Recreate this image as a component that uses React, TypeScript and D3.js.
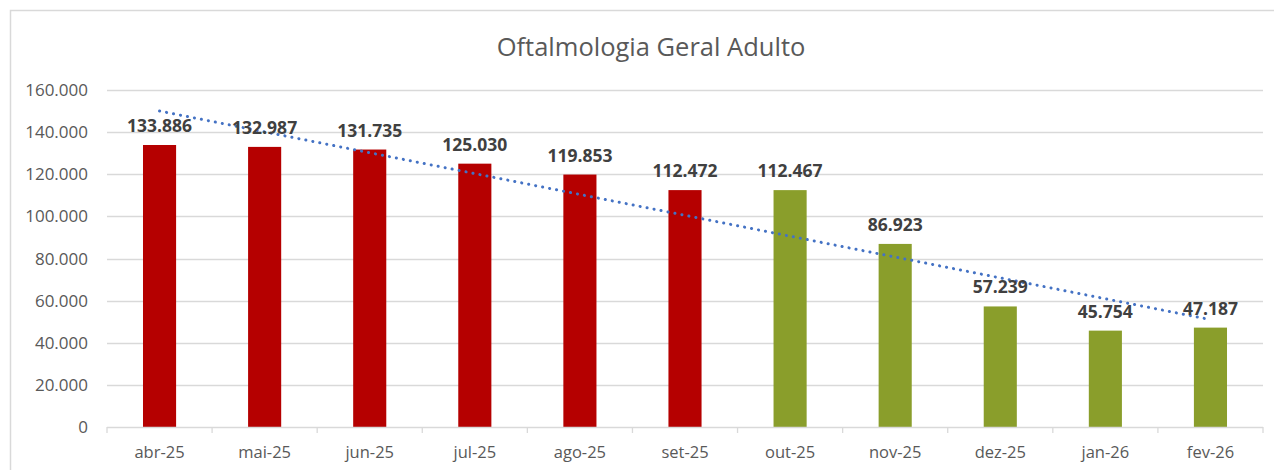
import React from "react";
import * as d3 from "d3";

const categories = ["abr-25", "mai-25", "jun-25", "jul-25", "ago-25", "set-25", "out-25", "nov-25", "dez-25", "jan-26", "fev-26"];
const values = [133886, 132987, 131735, 125030, 119853, 112472, 112467, 86923, 57239, 45754, 47187];
const groups = ["red", "red", "red", "red", "red", "red", "green", "green", "green", "green", "green"];
const yTicks = [0, 20000, 40000, 60000, 80000, 100000, 120000, 140000, 160000];
const title = "Oftalmologia Geral Adulto";

const W = 1274;
const H = 470;
const m = { left: 107, right: 11, top: 90, bottom: 43 };
const colors: Record<string, string> = { red: "#B50000", green: "#8A9E2B" };
const FONT = "'Open Sans', 'Liberation Sans', sans-serif";

const fmt = (v: number) => {
  if (v === 0) return "0";
  return d3.format(",")(v).replace(/,/g, ".");
};

export default function App() {
  const x = d3.scaleBand<string>().domain(categories).range([m.left, W - m.right]).paddingInner(0.685).paddingOuter(0.3425);
  const xb = d3.scaleBand<string>().domain(categories).range([m.left, W - m.right]);
  const y = d3.scaleLinear().domain([0, 160000]).range([H - m.bottom, m.top]);

  // linear trendline (least squares)
  const xs = values.map((_, i) => i + 1);
  const mx = d3.mean(xs) as number;
  const my = d3.mean(values) as number;
  const slope = d3.sum(xs.map((xi, i) => (xi - mx) * (values[i] - my))) / d3.sum(xs.map((xi) => (xi - mx) ** 2));
  const intercept = my - slope * mx;
  const trend = xs.map((xi, i) => [(xb(categories[i]) as number) + xb.bandwidth() / 2, y(intercept + slope * xi)] as [number, number]);
  const line = d3.line();

  const y0 = y(0);
  return (
    <svg width={W} height={H} style={{ position: "fixed", left: 0, top: 0, background: "#fff" }}>
      <rect x={0} y={0} width={W} height={H} fill="#fff" />
      <rect x={10.5} y={10.5} width={W + 20} height={H + 20} fill="none" stroke="#D9D9D9" strokeWidth={1.5} />
      <text x={651} y={56} textAnchor="middle" fontFamily={FONT} fontSize={25.5} fill="#595959">{title}</text>
      {yTicks.map((t) => (
        <g key={t}>
          {t !== 0 && <line x1={m.left} x2={W - m.right} y1={Math.round(y(t)) + 0.5} y2={Math.round(y(t)) + 0.5} stroke="#D9D9D9" strokeWidth={1.3} />}
          <text x={88} y={y(t)} dy="0.36em" textAnchor="end" fontFamily={FONT} fontSize={17} fill="#595959">{fmt(t)}</text>
        </g>
      ))}
      {values.map((v, i) => (
        <rect key={i} x={x(categories[i])} y={y(v)} width={x.bandwidth()} height={y0 - y(v)} fill={colors[groups[i]]} />
      ))}
      <line x1={m.left} x2={W - m.right} y1={Math.round(y0) + 0.5} y2={Math.round(y0) + 0.5} stroke="#D9D9D9" strokeWidth={1.3} />
      {categories.concat(["end"]).map((c, i) => {
        const xx = m.left + i * xb.step();
        return <line key={c} x1={xx} x2={xx} y1={y0} y2={y0 + 6} stroke="#D9D9D9" strokeWidth={1.3} />;
      })}
      {categories.map((c) => (
        <text key={c} x={(xb(c) as number) + xb.bandwidth() / 2} y={458} textAnchor="middle" fontFamily={FONT} fontSize={16.5} fill="#595959">{c}</text>
      ))}
      <path d={line(trend) as string} fill="none" stroke="#4472C4" strokeWidth={3} strokeDasharray="0.1 7" strokeLinecap="round" />
      {values.map((v, i) => (
        <text key={i} x={(xb(categories[i]) as number) + xb.bandwidth() / 2} y={y(v) - 13} textAnchor="middle" fontFamily={FONT} fontWeight={700} fontSize={17.5} fill="#404040">{fmt(v)}</text>
      ))}
    </svg>
  );
}
